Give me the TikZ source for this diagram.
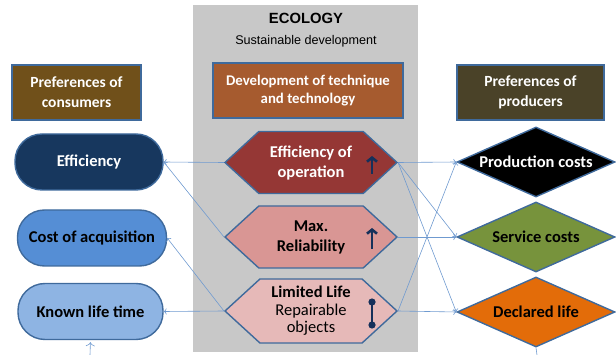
\documentclass[tikz,border=0pt]{standalone}
\usepackage{fontspec}
\setmainfont{Carlito}
\newfontfamily\arialfont{Liberation Sans}
\usetikzlibrary{arrows,arrows.meta,%
                shapes.geometric,%
                shapes.symbols}

\definecolor{panelgray}{HTML}{C8C8C8}
\definecolor{edgeblue}{HTML}{3F6A9C}
\definecolor{linkblue}{HTML}{6F9AD0}
\definecolor{iconnavy}{HTML}{16305A}

\begin{document}
\begin{tikzpicture}[x=1pt, y=-1pt]
  \tikzstyle{every node} = [font=\bfseries\fontsize{16.5}{20}\selectfont,
                            align=center,
                            inner sep=0,
                            line width=1.4pt]
\tikzset{Head/.style={draw=edgeblue, rectangle, minimum height=55pt, text=white,
                      font=\bfseries\fontsize{15.5}{20}\selectfont}}
\tikzset{Pill/.style={draw=edgeblue, rectangle, rounded corners=27pt,
                      minimum height=56pt}}
\tikzset{Hexa/.style={draw=edgeblue, signal, signal to=west and east,
                      signal pointer angle=85, minimum width=172pt, minimum height=62pt}}
\tikzset{Rhomb/.style={draw=edgeblue, diamond, aspect=2.26,
                       minimum width=158pt, minimum height=70pt}}
\tikzset{EdgeStyle/.style={->, draw=linkblue, line width=0.6pt}}
\tikzset{IconStyle/.style={draw=iconnavy, line width=2.6pt}}
\useasboundingbox (0,0) rectangle (616,355);

\fill[panelgray] (193,5) rectangle (418,352);
\node[font=\arialfont\bfseries\fontsize{14.8}{16}\selectfont] (eco) at (306,18) {ECOLOGY};
\node[font=\arialfont\fontsize{12.6}{14}\selectfont] (sus) at (306,41) {Sustainable development};

\node[Head, fill={rgb,255:red,112;green,80;blue,26}, minimum width=129pt] (C) at (76.5,92.5) {Preferences of\\consumers};
\node[Head, fill={rgb,255:red,166;green,91;blue,47}, minimum width=190pt,
      font=\bfseries\fontsize{14.8}{18}\selectfont] (T) at (308,90.5) {Development of technique\\and technology};
\node[Head, fill={rgb,255:red,74;green,66;blue,40}, minimum width=147pt] (P) at (530.5,92.5) {Preferences of\\producers};

\node[Pill, fill={rgb,255:red,23;green,55;blue,94}, text=white, minimum width=148pt] (C0) at (89,162) {Efficiency};
\node[Pill, fill={rgb,255:red,85;green,142;blue,213}, minimum width=149pt] (C1) at (92,238) {Cost of acquisition};
\node[Pill, fill={rgb,255:red,142;green,180;blue,227}, minimum width=145pt] (C2) at (90.5,311.5) {Known life time};

\node[Hexa, fill={rgb,255:red,149;green,55;blue,53}, text=white] (T0) at (311,162.5) {Efficiency of\\operation};
\node[Hexa, fill={rgb,255:red,217;green,150;blue,148}] (T1) at (311,237) {Max.\\Reliability};
\node[Hexa, fill={rgb,255:red,230;green,185;blue,184}, minimum height=64pt,
      font=\fontsize{16.5}{17.5}\selectfont] (T2) at (311,311) {\textbf{Limited Life}\\Repairable\\objects};

\node[Rhomb, fill=black, text=white] (P0) at (536,162) {Production costs};
\node[Rhomb, fill={rgb,255:red,119;green,147;blue,60}] (P1) at (536,237) {Service costs};
\node[Rhomb, fill={rgb,255:red,227;green,108;blue,9}] (P2) at (536,312) {Declared life};

\draw[IconStyle, -{Straight Barb[length=4pt,width=10pt]}] (372,174) -- (372,156);
\draw[IconStyle, -{Straight Barb[length=4pt,width=10pt]}] (372,249) -- (372,228);
\draw[IconStyle] (372,302) -- (372,325);
\fill[iconnavy] (372,302) circle (3.6pt) (372,325) circle (3.6pt);

\coordinate (B0) at (90,355);
\coordinate (B1) at (537,355);

\draw[EdgeStyle] (T0.west) -- (C0.east);
\draw[EdgeStyle] (T1.west) -- (C0.east);
\draw[EdgeStyle] (T2.west) -- (C1.east);
\draw[EdgeStyle] (T2.west) -- (C2.east);
\draw[EdgeStyle] (T0.east) -- (P0.west);
\draw[EdgeStyle] (T0.east) -- (P1.west);
\draw[EdgeStyle] (T0.east) -- (P2.west);
\draw[EdgeStyle] (T1.east) -- (P1.west);
\draw[EdgeStyle] (T2.east) -- (P2.west);
\draw[EdgeStyle] (T2.east) -- (P0.west);
\draw[EdgeStyle, shorten >=2pt, -{To[length=4pt,width=9pt]}] (B0) -- (C2.south);
\draw[EdgeStyle, -] (P2.south) -- (B1);

\end{tikzpicture}
\end{document}
